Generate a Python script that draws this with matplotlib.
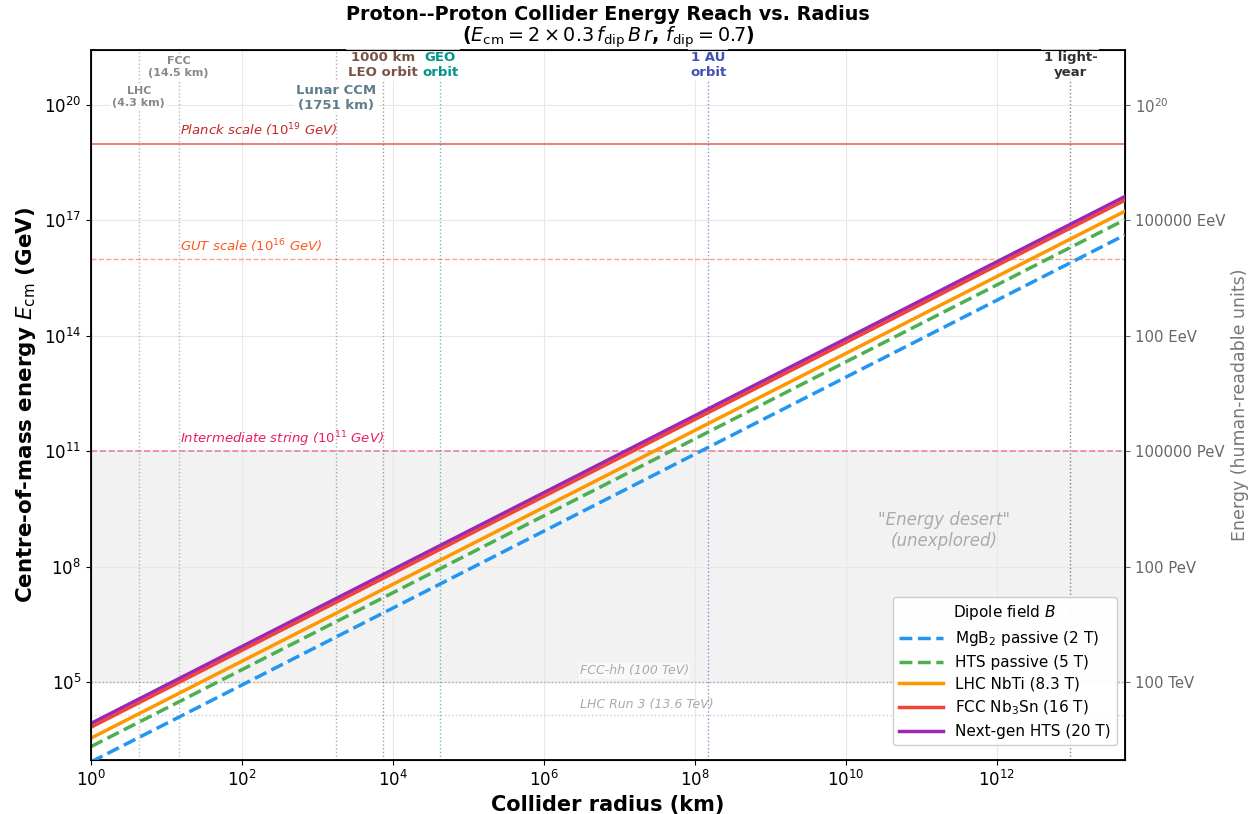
import numpy as np
import matplotlib.pyplot as plt

# dipole field options (T)
fields = [2, 5, 8.3, 16, 20]
field_names = [r'MgB$_2$ passive (2 T)', 'HTS passive (5 T)', 'LHC NbTi (8.3 T)',
               r'FCC Nb$_3$Sn (16 T)', 'Next-gen HTS (20 T)']
field_colors = ['#2196F3', '#4CAF50', '#FF9800', '#F44336', '#9C27B0']
field_styles = ['--', '--', '-', '-', '-']
f_dip = 0.7
radius_km = np.array([1.0, 5e13])

# reference radii (km)
ref_names = ['LHC\n(4.3 km)', 'FCC\n(14.5 km)', 'Lunar CCM\n(1751 km)', '1000 km\nLEO orbit',
             'GEO\norbit', '1 AU\norbit', '1 light-\nyear']
ref_radii = [4.3, 14.5, 1751, 7371, 42164, 1.496e8, 9.461e12]
ref_colors = ['#888888', '#888888', '#607D8B', '#795548', '#009688', '#3F51B5', '#333333']
ref_ypos = [0.949, 0.991, 0.952, 0.999, 0.999, 0.999, 0.999]
ref_size = [8, 8, 9.5, 9.5, 9.5, 9.5, 9.5]

# energy scales (GeV)
planck = 1e19
gut = 1e16
string = 1e11
fcc_hh = 1e5
lhc_run3 = 1.36e4

right_ticks = [1e5, 1e8, 1e11, 1e14, 1e17, 1e20]
right_labels = ['100 TeV', '100 PeV', '100000 PeV', '100 EeV', '100000 EeV', r'$10^{20}$']

fig = plt.figure(figsize=(12.57, 8.14), dpi=100)
ax = fig.add_axes([0.0724, 0.0663, 0.8226, 0.8723])
ax.set_xscale('log')
ax.set_yscale('log')
ax.set_xlim(1, 5e13)
ax.set_ylim(9.4e2, 2.7e21)

ax.axhspan(fcc_hh, string, color='#f2f2f2', zorder=0)
ax.text(2e11, 8.7e8, '"Energy desert"\n(unexplored)', color='#aaaaaa', style='italic',
        fontsize=12, ha='center', va='center')

ax.axhline(planck, color='#E57373', lw=1.4, alpha=0.9)
ax.text(15, planck * 1.6, r'Planck scale ($10^{19}$ GeV)', color='#C62828', style='italic', fontsize=9.5)
ax.axhline(gut, color='#FF8A65', lw=1.0, ls='--', alpha=0.8)
ax.text(15, gut * 1.6, r'GUT scale ($10^{16}$ GeV)', color='#FF5722', style='italic', fontsize=9.5)
ax.axhline(string, color='#F06292', lw=1.2, ls='--', alpha=0.8)
ax.text(15, string * 1.6, r'Intermediate string ($10^{11}$ GeV)', color='#E91E63', style='italic', fontsize=9.5)
ax.axhline(fcc_hh, color='#aaaaaa', lw=1.0, ls=':')
ax.text(3e6, fcc_hh * 1.6, 'FCC-hh (100 TeV)', color='#aaaaaa', style='italic', fontsize=9,
        bbox=dict(facecolor='white', edgecolor='none', alpha=0.6, pad=1))
ax.axhline(lhc_run3, color='#cccccc', lw=1.0, ls=':')
ax.text(3e6, lhc_run3 * 1.6, 'LHC Run 3 (13.6 TeV)', color='#aaaaaa', style='italic', fontsize=9)

for name, r, c, yp, fs in zip(ref_names, ref_radii, ref_colors, ref_ypos, ref_size):
    ax.axvline(r, color=c, ls=':', lw=1.0, alpha=0.6)
    ax.text(r, yp, name, transform=ax.get_xaxis_transform(), ha='center', va='top',
            color=c, fontsize=fs, fontweight='bold',
            bbox=dict(facecolor='white', edgecolor='none', alpha=0.8, pad=1.5))

for B, name, c, s in zip(fields, field_names, field_colors, field_styles):
    E = 2 * 0.3 * f_dip * B * radius_km * 1000
    ax.plot(radius_km, E, color=c, ls=s, lw=2.5, label=name, zorder=5)

ax.grid(True, which='major', color='#e8e8e8', lw=0.8)
ax.tick_params(labelsize=12)
ax.set_xlabel('Collider radius (km)', fontsize=15, fontweight='bold')
ax.set_ylabel(r'Centre-of-mass energy $E_{\rm cm}$ (GeV)', fontsize=15.4, fontweight='bold')
ax.set_title('Proton--Proton Collider Energy Reach vs. Radius\n'
             r'($E_{\rm cm} = 2 \times 0.3\,f_{\rm dip}\,B\,r$, $f_{\rm dip} = 0.7$)',
             fontsize=13.8, fontweight='bold', pad=5.5, linespacing=1.0)
leg = ax.legend(loc='lower right', bbox_to_anchor=(0.9923, 0.0211), borderaxespad=0,
                title=r'Dipole field $B$', fontsize=11, title_fontsize=11,
                handlelength=2.9, labelspacing=0.45, framealpha=0.95)

ax2 = ax.twinx()
ax2.set_yscale('log')
ax2.set_ylim(ax.get_ylim())
ax2.set_yticks(right_ticks)
ax2.set_yticklabels(right_labels)
ax2.tick_params(labelsize=10.7, colors='#666666')
ax2.set_ylabel('Energy (human-readable units)', fontsize=12.5, color='#777777', labelpad=4)
for sp in ax.spines.values():
    sp.set_linewidth(1.3)

fig.savefig('out.png', dpi=100)
